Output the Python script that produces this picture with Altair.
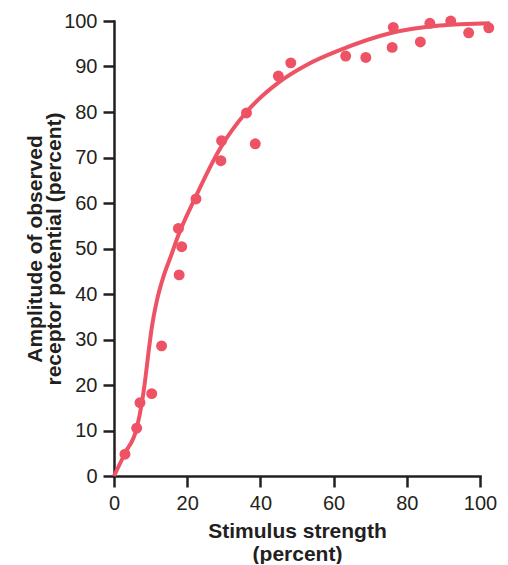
import altair as alt
import pandas as pd

# Observed data points (stimulus %, amplitude %)
pts_x = [3.0, 6.2, 7.1, 10.3, 13.0, 17.6, 18.5, 17.8, 22.4, 29.2, 29.4, 36.2,
         38.6, 44.9, 48.3, 63.3, 68.8, 76.0, 76.3, 83.7, 86.3, 92.0, 96.9, 102.4]
pts_y = [4.8, 10.5, 16.1, 18.1, 28.6, 54.4, 50.4, 44.2, 60.9, 69.3, 73.7, 79.8,
         73.0, 87.9, 90.8, 92.3, 92.0, 94.2, 98.6, 95.4, 99.5, 100.0, 97.4, 98.5]

# Fitted curve
curve_x = [0, 3, 6.2, 7.6, 8.5, 9.4, 10.3, 11.7, 13.5, 15.8, 17.1, 22.1, 29,
           36.3, 45, 53, 61.7, 75.4, 89, 102.7]
curve_y = [0, 5, 10.5, 16, 21, 27, 32.5, 38.5, 43.8, 48.9, 51.9, 61, 72,
           80.1, 86.5, 90.5, 93.6, 97.3, 99.0, 99.5]

x_ticks = [0, 10, 20, 30, 40, 50, 60, 70, 80, 90, 100]
y_ticks = [0, 10, 20, 30, 40, 50, 60, 70, 80, 90, 100]

pts = pd.DataFrame({"x": pts_x, "y": pts_y})
curve = pd.DataFrame({"x": curve_x, "y": curve_y})

RED = "#ED5265"
INK = "#231F20"
FONT = "Liberation Sans"

xscale = alt.Scale(domain=[0, 100], nice=False, zero=False)
yscale = alt.Scale(domain=[0, 100], nice=False, zero=False)

xaxis = alt.Axis(
    values=x_ticks,
    labelExpr="datum.value % 20 == 0 ? datum.label : ''",
    title=["Stimulus strength", "(percent)"],
    grid=False,
    domainColor=INK, domainWidth=2.5, domainCap="square",
    tickColor=INK, tickWidth=2.5, tickSize=11,
    labelColor=INK, labelFont=FONT, labelFontSize=20, labelPadding=6,
    labelFlush=False, labelOverlap=False,
    titleColor=INK, titleFont=FONT, titleFontSize=21, titleFontWeight="bold",
    titleLineHeight=23.5, titleBaseline="top", titleAlign="center",
    titleX=183, titleY=44,
)
yaxis = alt.Axis(
    values=y_ticks,
    title=["Amplitude of observed", "receptor potential (percent)"],
    grid=False,
    domainColor=INK, domainWidth=2.5, domainCap="square",
    tickColor=INK, tickWidth=2.5, tickSize=11,
    labelColor=INK, labelFont=FONT, labelFontSize=20, labelPadding=6,
    labelFlush=False, labelOverlap=False,
    titleColor=INK, titleFont=FONT, titleFontSize=21, titleFontWeight="bold",
    titleLineHeight=19, titleBaseline="alphabetic", titleAlign="center",
    titleAngle=270, titleX=-73, titleY=227.5,
)

line = alt.Chart(curve).mark_line(
    color=RED, strokeWidth=4, interpolate="monotone", clip=False
).encode(
    x=alt.X("x:Q", scale=xscale, axis=xaxis),
    y=alt.Y("y:Q", scale=yscale, axis=yaxis),
)

dots = alt.Chart(pts).mark_circle(
    color=RED, size=120, opacity=1, clip=False
).encode(
    x=alt.X("x:Q", scale=xscale),
    y=alt.Y("y:Q", scale=yscale),
)

chart = alt.layer(line, dots).properties(
    width=366,
    height=455,
    autosize=alt.AutoSizeParams(type="none"),
    padding={"left": 106, "top": 13, "right": 20, "bottom": 88},
).configure_view(stroke=None)

chart.save("out.html", embed_options={"renderer": "svg", "actions": False})
